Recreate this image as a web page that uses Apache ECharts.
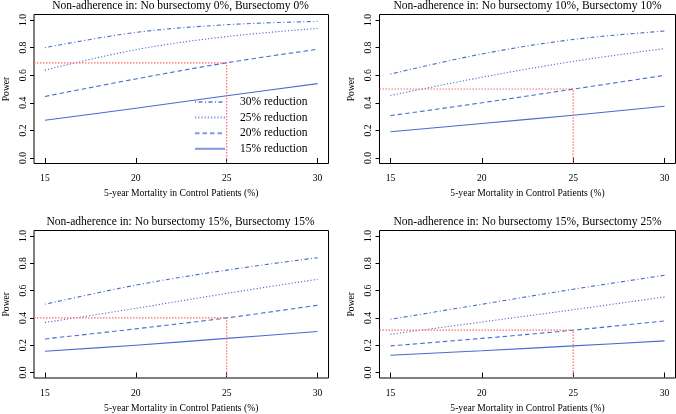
<!DOCTYPE html>
<html>
<head>
<meta charset="utf-8">
<script src="https://cdn.jsdelivr.net/npm/echarts@6/dist/echarts.min.js"></script>
<style>html,body{margin:0;padding:0;background:#fff}#c{width:676px;height:414px}</style>
</head>
<body>
<div id="c"></div>
<script>
// ---- data ----
const mortality = [15, 20, 25, 30];
const xTicks = [15, 20, 25, 30];
const yTicks = [0, 0.2, 0.4, 0.6, 0.8, 1.0];
const seriesNames = ['30% reduction', '25% reduction', '20% reduction', '15% reduction'];
const panelTitles = [
  'Non-adherence in: No bursectomy 0%, Bursectomy 0%',
  'Non-adherence in: No bursectomy 10%, Bursectomy 10%',
  'Non-adherence in: No bursectomy 15%, Bursectomy 15%',
  'Non-adherence in: No bursectomy 15%, Bursectomy 25%'
];
// power per panel, per reduction (order: 30%,25%,20%,15%)
const panel1 = {
  r30: [0.80, 0.91, 0.966, 0.99],
  r25: [0.637, 0.785, 0.88, 0.939],
  r20: [0.446, 0.573, 0.69, 0.788],
  r15: [0.273, 0.36, 0.451, 0.539]
};
const panel2 = {
  r30: [0.608, 0.754, 0.859, 0.92],
  r25: [0.453, 0.585, 0.70, 0.793],
  r20: [0.307, 0.40, 0.499, 0.599],
  r15: [0.19, 0.25, 0.31, 0.375]
};
const panel3 = {
  r30: [0.50, 0.64, 0.75, 0.841],
  r25: [0.366, 0.47, 0.58, 0.683],
  r20: [0.246, 0.32, 0.40, 0.493],
  r15: [0.156, 0.20, 0.25, 0.30]
};
const panel4 = {
  r30: [0.39, 0.50, 0.61, 0.712],
  r25: [0.28, 0.37, 0.46, 0.554],
  r20: [0.195, 0.25, 0.31, 0.378],
  r15: [0.127, 0.16, 0.195, 0.232]
};
const refX = 25;
const refPower = [0.69, 0.50, 0.40, 0.31];

// ---- layout / style ----
const panels = [panel1, panel2, panel3, panel4];
const grids = [
  {left: 32.5, top: 14.5, width: 296, height: 149},
  {left: 379.5, top: 14.5, width: 296, height: 149},
  {left: 32.5, top: 230.5, width: 296, height: 149},
  {left: 379.5, top: 230.5, width: 296, height: 149}
];
const FONT = 'Liberation Serif';
const BLUE = '#4a6bd0';
const dashes = [[1, 2.5, 4, 2.5], [1.2, 2], [4.5, 3], 'solid'];
const xMin = 14.4, xMax = 30.6, yMin = -0.04, yMax = 1.04;

const option = {
  animation: false,
  backgroundColor: '#fff',
  textStyle: {fontFamily: FONT},
  title: panelTitles.map((t, i) => ({
    text: t,
    left: grids[i].left + grids[i].width / 2,
    top: grids[i].top - 15,
    textAlign: 'center',
    padding: 0,
    textStyle: {fontFamily: FONT, fontSize: 11.5, fontWeight: 'normal', color: '#000'}
  })),
  grid: grids.map(g => Object.assign({show: true, borderColor: '#000', borderWidth: 1, backgroundColor: 'transparent'}, g)),
  xAxis: grids.map((g, i) => ({
    gridIndex: i, type: 'value', min: xMin, max: xMax,
    axisLine: {show: false},
    splitLine: {show: false},
    axisTick: {show: true, customValues: xTicks, length: 5, inside: false, lineStyle: {color: '#000'}},
    axisLabel: {customValues: xTicks, margin: 10, color: '#000', fontFamily: FONT, fontSize: 9.6},
    name: '5-year Mortality in Control Patients (%)', nameLocation: 'middle', nameGap: 25,
    nameTextStyle: {color: '#000', fontFamily: FONT, fontSize: 9.6}
  })),
  yAxis: grids.map((g, i) => ({
    gridIndex: i, type: 'value', min: yMin, max: yMax,
    axisLine: {show: false},
    splitLine: {show: false},
    axisTick: {show: true, customValues: yTicks, length: 4, inside: false, lineStyle: {color: '#000'}},
    axisLabel: {customValues: yTicks, rotate: 90, margin: 6, color: '#000', fontFamily: FONT, fontSize: 9.6,
      formatter: v => v.toFixed(1)},
    name: 'Power', nameLocation: 'middle', nameGap: 23, nameRotate: 90,
    nameTextStyle: {color: '#000', fontFamily: FONT, fontSize: 9.6}
  })),
  legend: {
    orient: 'vertical', left: 189, top: 91, itemWidth: 30, itemHeight: 13, itemGap: 3.6,
    data: seriesNames,
    textStyle: {fontFamily: FONT, fontSize: 11.5, color: '#000', padding: [0, 0, 0, 10]},
    lineStyle: {opacity: 0.7},
    itemStyle: {opacity: 0, color: 'transparent', borderWidth: 0},
    selectedMode: false
  },
  series: []
};

panels.forEach((p, i) => {
  const vals = [p.r30, p.r25, p.r20, p.r15];
  vals.forEach((v, k) => {
    option.series.push({
      type: 'line', name: seriesNames[k], xAxisIndex: i, yAxisIndex: i,
      data: mortality.map((m, j) => [m, v[j]]),
      smooth: 0.35, symbol: 'none', silent: true,
      lineStyle: {color: BLUE, width: 1.1, type: dashes[k]},
      itemStyle: {color: BLUE}
    });
  });
  option.series.push({
    type: 'line', name: 'ref', xAxisIndex: i, yAxisIndex: i,
    data: [[xMin, refPower[i]], [refX, refPower[i]], [refX, yMin]],
    symbol: 'none', silent: true,
    lineStyle: {color: '#ff6a6a', width: 1.2, type: [1.5, 1.5]}
  });
});

const chart = echarts.init(document.getElementById('c'), null, {renderer: 'canvas'});
chart.setOption(option);
</script>
</body>
</html>
